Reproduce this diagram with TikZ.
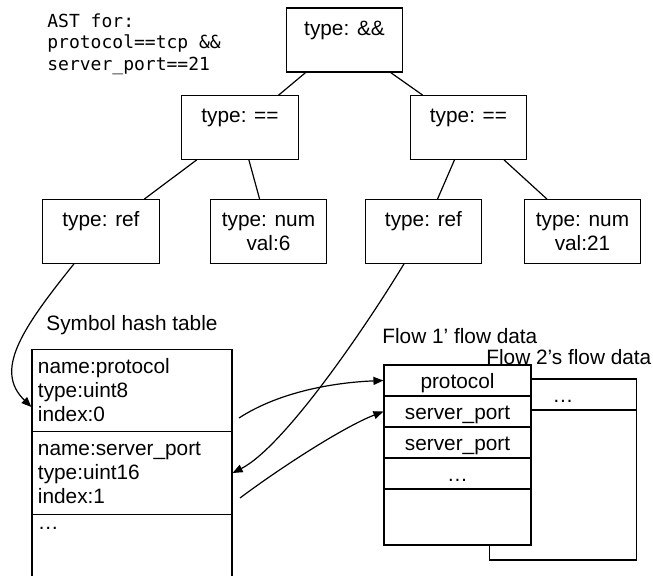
\documentclass[tikz,border=0pt]{standalone}
\usepackage{fontspec}
\setmainfont{Liberation Sans}
\setmonofont{DejaVu Sans Mono}
\usetikzlibrary{arrows.meta,positioning}
\tikzset{
  astbox/.style={draw,line width=0.6pt,minimum width=58.25pt,minimum height=31.75pt,inner sep=0pt,align=center},
  symrow/.style={draw,line width=0.6pt,minimum width=100pt,minimum height=41.25pt,inner xsep=3pt,inner ysep=0pt,text width=94pt,align=left},
  flowrow/.style={draw,line width=0.6pt,fill=white,minimum width=73.5pt,minimum height=15.5pt,inner sep=0pt,text height=8pt,text depth=0pt},
  edge/.style={line width=0.6pt},
  link/.style={line width=0.6pt,-{Triangle[length=5pt,width=4pt]}},
  lbl/.style={inner sep=0pt}
}
\begin{document}
\begin{tikzpicture}[x=0.5pt,y=-0.5pt,font=\fontsize{10.4}{12}\selectfont]
  \useasboundingbox (0,0) rectangle (653,576);
  % caption
  \node[anchor=north west,align=left,inner sep=0pt,font=\fontsize{9}{10.75}\selectfont\ttfamily] (caption) at (47,13)
    {AST for:\\protocol==tcp \&\&\\server\_port==21};
  % the tree
  \node[astbox,minimum height=32pt] (and) at (344.5,40) {type: \&\&\\\phantom{val:6}};
  \node[astbox] (eqL) at (240,127.5) {type: ==\\\phantom{val:6}};
  \node[astbox] (eqR) at (468.5,127.5) {type: ==\\\phantom{val:6}};
  \node[astbox] (ref1) at (101,231.5) {type: ref\\\phantom{val:6}};
  \node[astbox] (num6) at (268.5,231.5) {type: num\\val:6};
  \node[astbox] (ref2) at (423.5,231.5) {type: ref\\\phantom{val:6}};
  \node[astbox] (num21) at (582.5,231.5) {type: num\\val:21};
  \foreach \a/\b in {and/eqL,and/eqR,eqL/ref1,eqL/num6,eqR/ref2,eqR/num21}
    \draw[edge] (\a) -- (\b);
  % symbol hash table
  \node[lbl,anchor=west] (symlbl) at (46,325) {Symbol hash table};
  \node[symrow] (sym1) at (132,390.5) {name:protocol\\type:uint8\\index:0};
  \node[symrow] (sym2) at (132,473) {name:server\_port\\type:uint16\\index:1};
  \node[symrow] (sym3) at (132,555.5) {…\\\strut\\\strut};
  % flow data
  \node[lbl,anchor=west] (f1lbl) at (382,336) {Flow 1’ flow data};
  \node[lbl,anchor=west] (f2lbl) at (486,357) {Flow 2’s flow data};
  \node[flowrow] (f2top) at (563,394.5) {…};
  \node[flowrow,minimum height=75pt] (f2body) at (563,485) {};
  \foreach \y/\lab/\name in {380.5/protocol/f1a,411.5/server\_port/f1b,442.5/server\_port/f1c,473.5/…/f1d}
    \node[flowrow] (\name) at (457.5,\y) {\lab};
  \node[flowrow,minimum height=28pt] (f1e) at (457.5,517) {};
  % links
  \coordinate (s1) at (239,418);
  \coordinate (s2) at (240,498);
  \draw[link] ([xshift=-13.5pt]ref1.south) .. controls +(-54,67) and +(-37,-36) .. ([yshift=-8.25pt]sym1.west);
  \draw[link] ([xshift=-9.75pt]ref2.south) .. controls +(-40,66) and +(51,-26) .. (sym2.east);
  \draw[link] (s1) .. controls +(40,-26) and +(-50,2) .. (f1a.west);
  \draw[link] (s2) .. controls +(40,-30) and +(-40,15.5) .. (f1b.west);
\end{tikzpicture}
\end{document}
